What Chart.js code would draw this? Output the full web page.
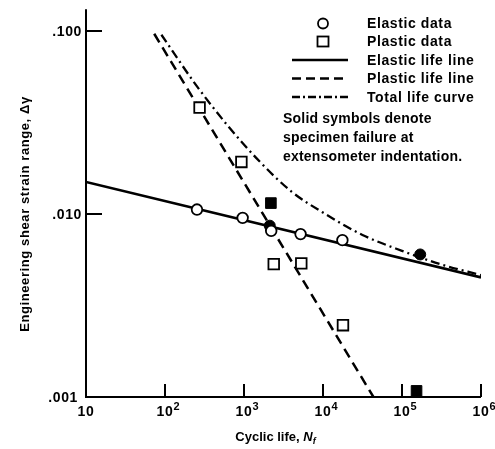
<!DOCTYPE html>
<html>
<head>
<meta charset="utf-8">
<script src="https://cdn.jsdelivr.net/npm/chart.js@4"></script>
<style>
  html, body { margin: 0; padding: 0; background: #fff; }
  #chart { display: block; }
</style>
</head>
<body>
<canvas id="chart" width="495" height="449"></canvas>
<script>
// Elastic data (open circles) and solid circles = failure at extensometer indentation
const elasticLife = [254, 961, 2210, 5200, 17600];
const elasticStrain = [0.0106, 0.00955, 0.0081, 0.00778, 0.00721];
const elasticSolidLife = [2120, 170000];
const elasticSolidStrain = [0.00865, 0.00602];

// Plastic data (open squares) and solid squares
const plasticLife = [274, 927, 2380, 5310, 17900];
const plasticStrain = [0.0383, 0.0193, 0.00533, 0.00538, 0.00247];
const plasticSolidLife = [2190, 152800];
const plasticSolidStrain = [0.0115, 0.00108];

// Life lines
const elasticLineLife = [10, 1e6];
const elasticLineStrain = [0.0150, 0.00451];
const plasticLineLife = [73, 43500];
const plasticLineStrain = [0.097, 0.001];
const totalLife = [90, 250, 630, 1580, 3980, 10000, 31600, 100000, 316000, 1e6];
const totalStrain = [0.0958, 0.0505, 0.0303, 0.0194, 0.0133, 0.0102, 0.0077, 0.0063, 0.0053, 0.00464];

// Axis ticks
const xTicks = [10, 100, 1000, 10000, 100000, 1000000];
const xTickExp = ['', '2', '3', '4', '5', '6'];
const yTicks = [0.1, 0.01, 0.001];
const yTickLabels = ['.100', '.010', '.001'];

const legendItems = ['Elastic data', 'Plastic data', 'Elastic life line', 'Plastic life line', 'Total life curve'];
const noteLines = ['Solid symbols denote', 'specimen failure at', 'extensometer indentation.'];

const pts = (xs, ys) => xs.map((x, i) => ({ x: x, y: ys[i] }));
const FONT = '"Liberation Sans", Arial, Helvetica, sans-serif';

const axesPlugin = {
  id: 'axesPlugin',
  afterDraw(chart) {
    const ctx = chart.ctx;
    const xs = chart.scales.x, ys = chart.scales.y;
    const a = chart.chartArea;
    ctx.save();
    ctx.strokeStyle = '#000';
    ctx.fillStyle = '#000';
    ctx.lineWidth = 2;
    ctx.lineCap = 'butt';
    // axis lines
    ctx.beginPath();
    ctx.moveTo(a.left, a.top);
    ctx.lineTo(a.left, a.bottom);
    ctx.lineTo(a.right, a.bottom);
    ctx.stroke();
    // inward ticks
    ctx.beginPath();
    xTicks.forEach(v => {
      if (v === 10) return;
      const px = Math.round(xs.getPixelForValue(v));
      ctx.moveTo(px, a.bottom);
      ctx.lineTo(px, a.bottom - 13);
    });
    yTicks.forEach(v => {
      if (v === 0.001) return;
      const py = Math.round(ys.getPixelForValue(v));
      ctx.moveTo(a.left, py);
      ctx.lineTo(a.left + 16, py);
    });
    ctx.stroke();

    // y tick labels
    ctx.letterSpacing = '0.6px';
    ctx.font = 'bold 14px ' + FONT;
    ctx.textAlign = 'right';
    ctx.textBaseline = 'middle';
    yTicks.forEach((v, i) => {
      const py = ys.getPixelForValue(v);
      ctx.fillText(yTickLabels[i], a.left - (v === 0.001 ? 8 : 4), py + 1);
    });

    // x tick labels with exponents
    xTicks.forEach((v, i) => {
      const px = xs.getPixelForValue(v);
      ctx.font = 'bold 14px ' + FONT;
      ctx.textAlign = 'center';
      ctx.textBaseline = 'middle';
      const bw = ctx.measureText('10').width;
      ctx.fillText('10', px, a.bottom + 15);
      if (xTickExp[i]) {
        ctx.font = 'bold 11px ' + FONT;
        ctx.textAlign = 'left';
        ctx.fillText(xTickExp[i], px + bw / 2, a.bottom + 10);
      }
    });
    ctx.letterSpacing = '0px';

    // x axis title
    ctx.textBaseline = 'middle';
    const t1 = 'Cyclic life, ';
    ctx.font = 'bold 13px ' + FONT;
    const w1 = ctx.measureText(t1).width;
    ctx.font = 'italic bold 13px ' + FONT;
    const w2 = ctx.measureText('N').width;
    const startX = 277 - (w1 + w2 + 6) / 2;
    ctx.textAlign = 'left';
    ctx.font = 'bold 13px ' + FONT;
    ctx.fillText(t1, startX, 437);
    ctx.font = 'italic bold 13px ' + FONT;
    ctx.fillText('N', startX + w1, 437);
    ctx.font = 'italic bold 9px ' + FONT;
    ctx.fillText('f', startX + w1 + w2, 442);

    // y axis title
    ctx.save();
    ctx.translate(25, 214);
    ctx.rotate(-Math.PI / 2);
    ctx.letterSpacing = '0.6px';
    ctx.font = 'bold 13px ' + FONT;
    ctx.textAlign = 'center';
    ctx.textBaseline = 'middle';
    ctx.fillText('Engineering shear strain range, \u0394\u03b3', 0, 0);
    ctx.restore();

    // legend
    const lx0 = 292, lx1 = 348, sx = 323, tx = 367;
    const rows = [23.5, 41.5, 60, 78.5, 97];
    ctx.letterSpacing = '0.6px';
    ctx.font = 'bold 14px ' + FONT;
    ctx.textAlign = 'left';
    ctx.textBaseline = 'middle';
    legendItems.forEach((label, i) => ctx.fillText(label, tx, rows[i] + 1));
    ctx.lineWidth = 1.8;
    ctx.beginPath();
    ctx.arc(sx, rows[0], 5, 0, Math.PI * 2);
    ctx.stroke();
    ctx.strokeRect(sx - 5.5, rows[1] - 5, 11, 10);
    ctx.lineWidth = 2.5;
    [[], [9, 5], [8, 3, 2, 3]].forEach((dash, j) => {
      ctx.setLineDash(dash);
      ctx.beginPath();
      ctx.moveTo(lx0, rows[2 + j]);
      ctx.lineTo(lx1, rows[2 + j]);
      ctx.stroke();
    });
    ctx.setLineDash([]);

    // note
    ctx.letterSpacing = '0.2px';
    ctx.font = 'bold 14px ' + FONT;
    noteLines.forEach((line, i) => ctx.fillText(line, 283, 119 + i * 19));
    ctx.restore();
  }
};

new Chart(document.getElementById('chart').getContext('2d'), {
  type: 'scatter',
  data: {
    datasets: [
      {
        label: 'Elastic data',
        data: pts(elasticLife, elasticStrain),
        pointStyle: 'circle', pointRadius: 5.3,
        backgroundColor: '#fff', borderColor: '#000', borderWidth: 1.8
      },
      {
        label: 'Elastic data (solid)',
        data: pts(elasticSolidLife, elasticSolidStrain),
        pointStyle: 'circle', pointRadius: 5.5,
        backgroundColor: '#000', borderColor: '#000', borderWidth: 1
      },
      {
        label: 'Plastic data',
        data: pts(plasticLife, plasticStrain),
        pointStyle: 'rect', pointRadius: 7.5,
        backgroundColor: '#fff', borderColor: '#000', borderWidth: 1.8
      },
      {
        label: 'Plastic data (solid)',
        data: pts(plasticSolidLife, plasticSolidStrain),
        pointStyle: 'rect', pointRadius: 7.5,
        backgroundColor: '#000', borderColor: '#000', borderWidth: 1
      },
      {
        label: 'Elastic life line',
        data: pts(elasticLineLife, elasticLineStrain),
        showLine: true, pointRadius: 0,
        borderColor: '#000', borderWidth: 2.6
      },
      {
        label: 'Plastic life line',
        data: pts(plasticLineLife, plasticLineStrain),
        showLine: true, pointRadius: 0,
        borderColor: '#000', borderWidth: 2.5, borderDash: [10, 6]
      },
      {
        label: 'Total life curve',
        data: pts(totalLife, totalStrain),
        showLine: true, pointRadius: 0, cubicInterpolationMode: 'monotone',
        borderColor: '#000', borderWidth: 2.3, borderDash: [9, 4, 2, 4]
      }
    ]
  },
  options: {
    responsive: false,
    animation: false,
    layout: { padding: { top: 9, right: 14, left: 0, bottom: 0 } },
    plugins: { legend: { display: false }, tooltip: { enabled: false } },
    scales: {
      x: {
        type: 'logarithmic', min: 10, max: 1e6,
        grid: { display: false }, border: { display: false },
        ticks: { display: false },
        afterFit: (s) => { s.height = 52; }
      },
      y: {
        type: 'logarithmic', min: 0.001, max: 0.132,
        grid: { display: false }, border: { display: false },
        ticks: { display: false },
        afterFit: (s) => { s.width = 86; }
      }
    }
  },
  plugins: [axesPlugin]
});
</script>
</body>
</html>
